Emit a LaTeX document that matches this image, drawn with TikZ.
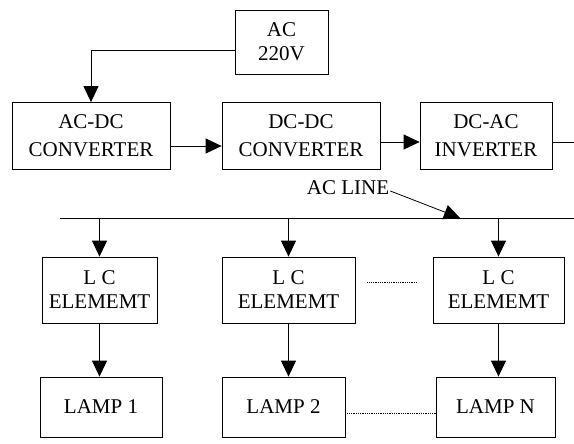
\documentclass[tikz,border=0pt]{standalone}
\usepackage{fontspec}
\setmainfont{Liberation Serif}
\usetikzlibrary{arrows.meta}
\begin{document}
\begin{tikzpicture}[x=1pt,y=-1pt,
  blk/.style={draw, line width=0.8pt, inner sep=0pt, align=center, font=\fontsize{21}{24}\selectfont},
  conn/.style={line width=0.8pt},
  arr/.style={conn, -{Triangle[width=15pt,length=16pt]}},
  lbl/.style={font=\fontsize{21}{24}\selectfont, inner sep=1pt}]
\useasboundingbox (0,0) rectangle (574,444);
\node[blk, minimum width=93pt, minimum height=64pt] (ac) at (281.5,42) {AC\\220V};
\node[blk, minimum width=158pt, minimum height=67pt, font=\fontsize{21}{28}\selectfont] (acdc) at (91,136) {AC-DC\\CONVERTER};
\node[blk, minimum width=158pt, minimum height=67pt, font=\fontsize{21}{28}\selectfont] (dcdc) at (301,136) {DC-DC\\CONVERTER};
\node[blk, minimum width=132pt, minimum height=67pt, font=\fontsize{21}{28}\selectfont] (dcac) at (486,136) {DC-AC\\INVERTER};
\node[blk, minimum width=115pt, minimum height=66pt] (lc1) at (99.5,290) {L C\\ELEMEMT};
\node[blk, minimum width=133pt, minimum height=66pt] (lc2) at (288.5,290) {L C\\ELEMEMT};
\node[blk, minimum width=131pt, minimum height=66pt] (lc3) at (498.5,290) {L C\\ELEMEMT};
\node[blk, minimum width=122pt, minimum height=60pt] (lamp1) at (101,407) {LAMP 1};
\node[blk, minimum width=123pt, minimum height=60pt] (lamp2) at (283.5,407) {LAMP 2};
\node[blk, minimum width=119pt, minimum height=60pt] (lampN) at (495.5,407) {LAMP N};
% supply
\draw[arr] ([yshift=-8pt]ac.west) -| (acdc.north);
\draw[arr] ([yshift=-10pt]acdc.east) -- ([yshift=-10pt]dcdc.west);
\draw[arr] ([yshift=-6pt]dcdc.east) -- ([yshift=-6pt]dcac.west);
\coordinate (r1) at (574,142);
\draw[conn] ([yshift=-6pt]dcac.east) -- (r1);
% AC line
\coordinate (l0) at (60,218);
\coordinate (l1) at (574,218);
\draw[conn] (l0) -- (l1);
\node[lbl] (acl) at (348,188) {AC LINE};
\coordinate (tip) at (460,218);
\draw[arr] ([yshift=-3pt]acl.east) -- (tip);
\draw[arr] (lc1.north |- l0) -- (lc1.north);
\draw[arr] (lc2.north |- l0) -- (lc2.north);
\draw[arr] (lc3.north |- l0) -- (lc3.north);
% to lamps
\draw[arr] (lc1.south) -- (lc1.south |- lamp1.north);
\draw[arr] (lc2.south) -- (lc2.south |- lamp2.north);
\draw[arr] (lc3.south) -- (lc3.south |- lampN.north);
% dotted links
\draw[conn, densely dotted, shorten <=12pt, shorten >=15pt] ([yshift=8pt]lc2.east) -- ([yshift=8pt]lc3.west);
\draw[conn, densely dotted] ([yshift=-6pt]lamp2.east) -- ([yshift=-6pt]lampN.west);
\end{tikzpicture}
\end{document}
